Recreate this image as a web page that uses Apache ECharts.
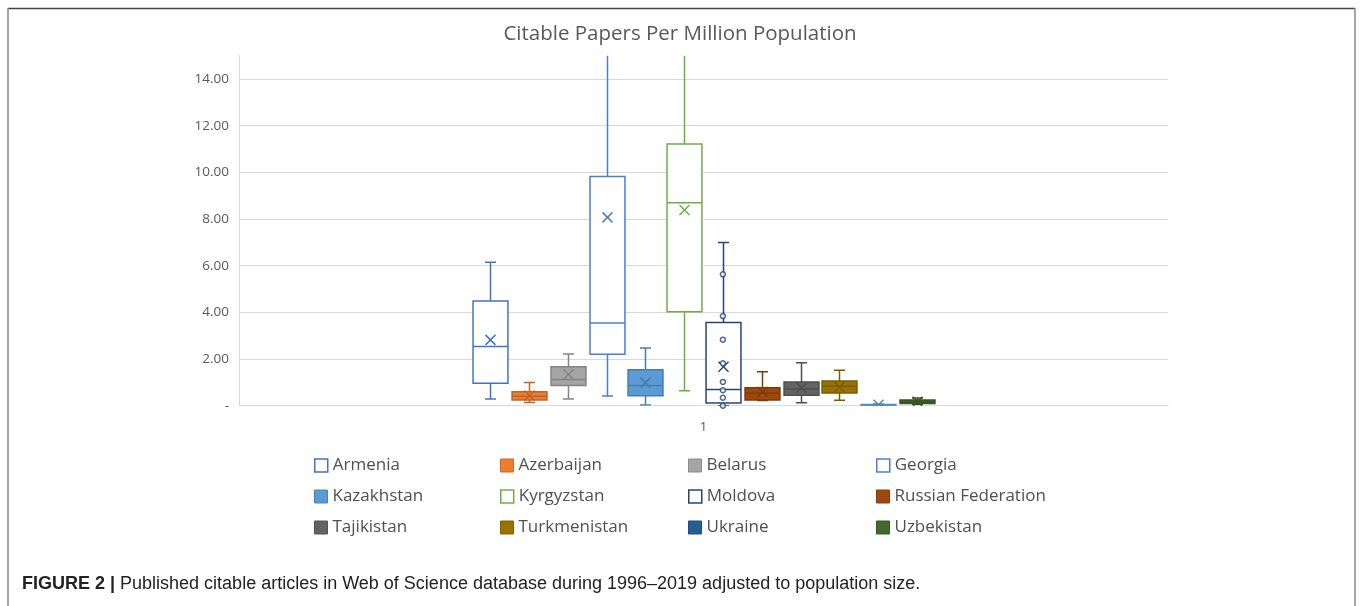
<!DOCTYPE html>
<html>
<head>
<meta charset="utf-8">
<title>Citable Papers Per Million Population</title>
<script src="https://cdn.jsdelivr.net/npm/echarts@6/dist/echarts.min.js"></script>
<style>
  html, body { margin: 0; padding: 0; background: #fff; }
  #chart { width: 1360px; height: 606px; }
</style>
</head>
<body>
<div id="chart"></div>
<script>
// values (papers per million population)
var categories = ['1'];
var countries = ['Armenia', 'Azerbaijan', 'Belarus', 'Georgia', 'Kazakhstan', 'Kyrgyzstan',
  'Moldova', 'Russian Federation', 'Tajikistan', 'Turkmenistan', 'Ukraine', 'Uzbekistan'];
var lowWhisker  = [0.29, 0.14, 0.29, 0.42, 0.03, 0.64, 0.00, 0.22, 0.13, 0.23, 0.01, 0.06];
var q1          = [0.96, 0.24, 0.87, 2.20, 0.43, 4.03, 0.12, 0.24, 0.45, 0.54, 0.03, 0.09];
var median      = [2.54, 0.40, 1.12, 3.54, 0.87, 8.70, 0.69, 0.53, 0.72, 0.83, 0.04, 0.16];
var q3          = [4.49, 0.60, 1.67, 9.82, 1.54, 11.22, 3.57, 0.77, 1.02, 1.06, 0.05, 0.24];
var highWhisker = [6.15, 0.99, 2.22, 16.0, 2.47, 18.0, 6.99, 1.46, 1.84, 1.52, 0.07, 0.33];
var means       = [2.82, 0.44, 1.34, 8.07, 0.99, 8.39, 1.67, 0.60, 0.77, 0.80, 0.04, 0.17];
var moldovaPoints = [5.63, 3.84, 2.83, 1.82, 1.02, 0.66, 0.34, 0.00];

var colors = ['#4472C4', '#ED7D31', '#A5A5A5', '#4A7DD3', '#5B9BD5', '#70AD47',
  '#264478', '#9E480E', '#636363', '#997300', '#255E91', '#43682B'];
var hollow = [true, false, false, true, false, true, true, false, false, false, false, false];

function darken(hex, f) {
  var n = parseInt(hex.slice(1), 16);
  var r = Math.round(((n >> 16) & 255) * f), g = Math.round(((n >> 8) & 255) * f), b = Math.round((n & 255) * f);
  return 'rgb(' + r + ',' + g + ',' + b + ')';
}

var myChart = echarts.init(document.getElementById('chart'));

function renderBox(params, api) {
  var i = params.seriesIndex;
  var stroke = hollow[i] ? colors[i] : darken(colors[i], 0.8);
  // ukraine's flat box reads lighter in the figure
  if (countries[i] === 'Ukraine') stroke = '#5A88BE';
  var fill = hollow[i] ? '#fff' : colors[i];
  var lw = 1.5;
  var x = Math.round(api.coord([api.value(0), 0])[0]) + 0.5;
  var half = api.size([1, 0])[0] * 0.45;
  var y = function (d) { return api.coord([api.value(0), api.value(d)])[1]; };
  var yMin = y(1), yQ1 = y(2), yMed = y(3), yQ3 = y(4), yMax = y(5), yMean = y(6);
  var ls = { stroke: stroke, lineWidth: lw, fill: null };
  var line = function (x1, y1, x2, y2) {
    return { type: 'line', shape: { x1: x1, y1: y1, x2: x2, y2: y2 }, style: ls };
  };
  return {
    type: 'group',
    children: [
      line(x, yQ3, x, yMax),
      line(x, yQ1, x, yMin),
      line(x - 5.5, yMax, x + 5.5, yMax),
      line(x - 5.5, yMin, x + 5.5, yMin),
      { type: 'rect', shape: { x: x - half, y: yQ3, width: half * 2, height: Math.max(yQ1 - yQ3, 1) },
        style: { fill: fill, stroke: stroke, lineWidth: lw } },
      line(x - half, yMed, x + half, yMed),
      line(x - 5, yMean - 5, x + 5, yMean + 5),
      line(x - 5, yMean + 5, x + 5, yMean - 5)
    ]
  };
}

var series = countries.map(function (c, i) {
  return {
    name: c,
    type: 'custom',
    xAxisIndex: 1,
    yAxisIndex: 1,
    clip: true,
    itemStyle: { color: colors[i] },
    renderItem: renderBox,
    encode: { x: 0, y: [1, 2, 3, 4, 5, 6] },
    data: [[i, lowWhisker[i], q1[i], median[i], q3[i], highWhisker[i], means[i]]]
  };
});
series.push({
  name: 'Moldova points',
  type: 'scatter',
  xAxisIndex: 1,
  yAxisIndex: 1,
  symbol: 'circle',
  symbolSize: 5,
  itemStyle: { color: '#fff', borderColor: '#264478', borderWidth: 1.5 },
  data: moldovaPoints.map(function (v) { return [6, v]; }),
  z: 5
});

var colX = [314, 500, 688, 876];
var rowY = [464, 495, 526];
var legends = countries.map(function (c, i) {
  return {
    left: colX[i % 4],
    top: rowY[Math.floor(i / 4)] - 7,
    padding: 0,
    itemWidth: 13,
    itemHeight: 13,
    selectedMode: false,
    textStyle: { fontFamily: 'Open Sans', fontSize: 17, color: '#505050' },
    data: [{
      name: c,
      icon: 'rect',
      itemStyle: hollow[i]
        ? { color: '#fff', borderColor: colors[i], borderWidth: 1.5 }
        : { color: colors[i], borderColor: darken(colors[i], 0.85), borderWidth: 1 }
    }]
  };
});

var option = {
  animation: false,
  title: {
    text: 'Citable Papers Per Million Population',
    left: 'center',
    top: 19,
    textStyle: { fontFamily: 'Open Sans', fontSize: 20.5, fontWeight: 'normal', color: '#595959' }
  },
  legend: legends,
  grid: [
    { left: 239, right: 192, top: 55.7, bottom: 200.3 },
    { left: 470.7, width: 465.6, top: 55.7, bottom: 200.3 }
  ],
  xAxis: [
    {
      type: 'category',
      gridIndex: 0,
      data: categories,
      axisLine: { lineStyle: { color: '#D9D9D9', width: 1 } },
      axisTick: { show: false },
      axisLabel: { margin: 15, fontFamily: 'Open Sans', fontSize: 13, color: '#595959' }
    },
    {
      type: 'category',
      gridIndex: 1,
      data: countries,
      show: false
    }
  ],
  yAxis: [
    {
      type: 'value',
      gridIndex: 0,
      min: 0,
      max: 15,
      interval: 2,
      axisLine: { show: true, lineStyle: { color: '#D9D9D9' } },
      axisTick: { show: false },
      axisLabel: {
        margin: 10,
        showMaxLabel: false,
        fontFamily: 'Open Sans',
        fontSize: 13.5,
        color: '#595959',
        formatter: function (v) { return v === 0 ? '-' : v.toFixed(2); }
      },
      splitLine: { showMaxLine: false, lineStyle: { color: '#D9D9D9', width: 1 } }
    },
    {
      type: 'value',
      gridIndex: 1,
      min: 0,
      max: 15,
      show: false
    }
  ],
  graphic: [
    { type: 'line', shape: { x1: 8, y1: 8.5, x2: 1355, y2: 8.5 }, style: { stroke: '#444', lineWidth: 1.5 } },
    { type: 'line', shape: { x1: 8, y1: 8, x2: 8, y2: 606 }, style: { stroke: '#888', lineWidth: 1.5 } },
    { type: 'line', shape: { x1: 1355, y1: 8, x2: 1355, y2: 606 }, style: { stroke: '#888', lineWidth: 1.5 } },
    {
      type: 'text',
      left: 22,
      top: 575,
      style: {
        text: '{b|FIGURE 2 |} Published citable articles in Web of Science database during 1996–2019 adjusted to population size.',
        font: '18px "Liberation Sans Narrow", "Liberation Sans", sans-serif',
        fill: '#222',
        rich: {
          b: { font: 'bold 18px "Liberation Sans Narrow", "Liberation Sans", sans-serif', fill: '#222' }
        }
      }
    }
  ],
  series: series
};

myChart.setOption(option);
</script>
</body>
</html>
